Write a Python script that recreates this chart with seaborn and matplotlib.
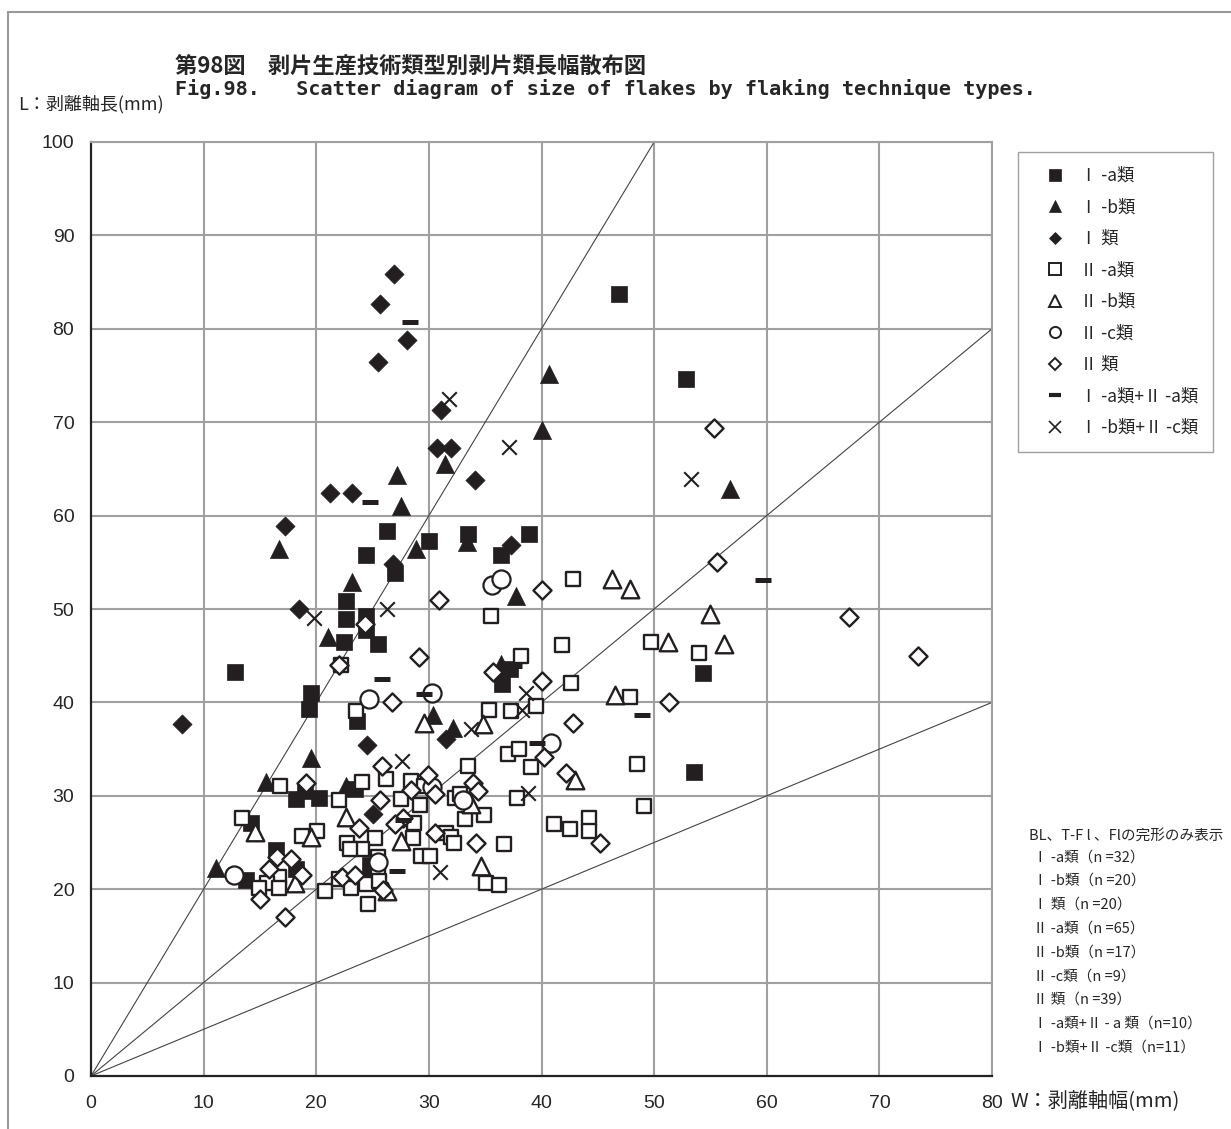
import numpy as np
import pandas as pd
import matplotlib
matplotlib.use("Agg")
import matplotlib.pyplot as plt
import seaborn as sns
from matplotlib.lines import Line2D
from matplotlib.patches import Rectangle

# ---------------- data (W = width mm, L = length mm) ----------------
Ia_W = [46.9, 52.8, 12.8, 13.8, 14.2, 16.4, 18.2, 18.2, 19.0, 19.4, 19.5, 20.2, 22.5, 22.6, 22.6, 24.4,
        24.4, 24.4, 23.6, 23.4, 25.5, 26.3, 27.0, 30.0, 33.5, 36.4, 38.9, 36.5, 37.2, 54.3, 53.5, 24.8]
Ia_L = [83.7, 74.6, 43.3, 21.0, 27.1, 24.2, 29.7, 22.2, 30.5, 39.3, 41.0, 29.8, 46.5, 48.9, 50.9, 55.8,
        49.3, 47.8, 38.0, 30.7, 46.2, 58.4, 53.9, 57.3, 58.0, 55.8, 58.0, 42.0, 43.6, 43.2, 32.5, 22.6]

Ib_W = [40.7, 40.0, 56.7, 27.2, 27.5, 31.4, 33.4, 28.9, 37.7, 16.7, 23.2, 21.0, 19.5, 15.5, 11.1, 22.6,
        30.4, 32.1, 36.4, 24.7]
Ib_L = [75.2, 69.2, 62.9, 64.4, 61.0, 65.5, 57.2, 56.4, 51.4, 56.4, 52.9, 47.0, 34.0, 31.5, 22.3, 31.0,
        38.7, 37.3, 44.1, 22.4]

I_W = [8.1, 26.9, 25.7, 25.5, 28.1, 21.2, 23.2, 17.2, 18.5, 31.1, 30.7, 32.0, 34.1, 37.3, 24.5, 25.0,
       31.5, 26.8, 36.0, 22.0]
I_L = [37.7, 85.9, 82.7, 76.4, 78.8, 62.4, 62.4, 58.9, 50.0, 71.3, 67.2, 67.2, 63.8, 56.9, 35.4, 28.1,
       36.1, 54.8, 43.0, 44.0]

IIa_W = [16.8, 22.2, 23.5, 24.1, 22.0, 13.4, 18.7, 20.1, 22.7, 25.2, 24.1, 25.5, 16.7, 15.6, 14.9, 16.7,
         20.8, 22.0, 23.1, 24.4, 25.5, 24.6, 41.8, 49.7, 38.2, 42.6, 47.9, 39.5, 35.3, 37.3, 37.0, 38.0,
         39.1, 48.5, 33.5, 28.4, 29.6, 32.3, 32.8, 37.8, 27.5, 29.2, 49.1, 33.2, 34.9, 28.7, 41.1, 42.5,
         44.2, 44.2, 31.5, 32.0, 32.2, 28.6, 36.7, 29.3, 30.1, 35.1, 36.2, 42.8, 35.5, 54.0, 26.2, 23.0,
         25.6]
IIa_L = [31.1, 44.0, 39.1, 31.5, 29.6, 27.6, 25.7, 26.2, 25.0, 25.5, 24.3, 23.5, 21.3, 20.7, 20.1, 20.1,
         19.8, 21.1, 20.1, 20.6, 22.3, 18.4, 46.1, 46.5, 45.0, 42.1, 40.6, 39.6, 39.2, 39.1, 34.5, 35.0,
         33.1, 33.4, 33.2, 31.6, 31.0, 29.8, 30.2, 29.8, 29.7, 29.0, 28.9, 27.5, 27.9, 27.1, 27.0, 26.4,
         27.6, 26.2, 26.0, 25.6, 24.9, 25.5, 24.8, 23.6, 23.6, 20.7, 20.4, 53.2, 49.3, 45.3, 31.8, 24.3,
         20.9]

IIb_W = [51.2, 46.5, 46.3, 47.9, 55.0, 56.2, 43.0, 29.6, 34.8, 33.7, 27.5, 34.6, 26.3, 14.6, 19.5, 22.6, 18.1]
IIb_L = [46.5, 40.8, 53.2, 52.1, 49.5, 46.2, 31.7, 37.8, 37.7, 29.1, 25.2, 22.5, 19.8, 26.1, 25.6, 27.7, 20.7]

IIc_W = [35.6, 36.4, 24.7, 30.3, 40.8, 33.0, 30.3, 12.7, 25.5]
IIc_L = [52.6, 53.2, 40.4, 41.0, 35.6, 29.5, 30.9, 21.5, 22.9]

II_W = [55.3, 55.6, 67.3, 73.4, 51.3, 30.9, 40.0, 29.1, 35.7, 40.0, 26.7, 42.8, 40.2, 42.2, 25.8, 29.9,
        28.4, 30.5, 33.9, 34.4, 25.7, 27.7, 30.5, 34.2, 45.2, 25.9, 19.1, 16.5, 17.8, 15.8, 18.7, 23.8,
        22.3, 23.4, 15.0, 17.2, 24.3, 22.0, 27.0]
II_L = [69.4, 55.0, 49.1, 45.0, 40.0, 51.0, 52.0, 44.9, 43.3, 42.3, 40.0, 37.8, 34.2, 32.4, 33.2, 32.2,
        30.6, 30.2, 31.4, 30.5, 29.5, 27.6, 26.0, 24.9, 24.9, 19.9, 31.4, 23.4, 23.2, 22.2, 21.5, 26.6,
        21.3, 21.5, 19.0, 17.0, 48.4, 44.0, 27.0]

IaIIa_W = [28.3, 24.8, 25.8, 29.6, 37.6, 48.9, 39.6, 27.7, 27.2, 59.7]
IaIIa_L = [80.7, 61.5, 42.5, 40.9, 43.9, 38.7, 35.6, 27.4, 22.0, 53.1]

IbIIc_W = [31.8, 37.1, 53.3, 19.8, 26.3, 38.6, 38.3, 33.7, 27.6, 38.8, 31.0]
IbIIc_L = [72.5, 67.3, 63.9, 49.0, 50.0, 41.0, 39.2, 37.2, 33.7, 30.3, 21.8]

labels = ["Ⅰ -a類", "Ⅰ -b類", "Ⅰ 類", "Ⅱ -a類", "Ⅱ -b類", "Ⅱ -c類", "Ⅱ 類",
          "Ⅰ -a類+Ⅱ -a類", "Ⅰ -b類+Ⅱ -c類"]
notes = ["BL、T-F l 、Flの完形のみ表示", "Ⅰ -a類（n =32）", "Ⅰ -b類（n =20）", "Ⅰ 類（n =20）",
         "Ⅱ -a類（n =65）", "Ⅱ -b類（n =17）", "Ⅱ -c類（n =9）", "Ⅱ 類（n =39）",
         "Ⅰ -a類+Ⅱ - a 類（n=10）", "Ⅰ -b類+Ⅱ -c類（n=11）"]
x_ticks = [0, 10, 20, 30, 40, 50, 60, 70, 80]
y_ticks = [0, 10, 20, 30, 40, 50, 60, 70, 80, 90, 100]
ref_slopes = [2.0, 1.0, 0.5]

groups = [(Ia_W, Ia_L), (Ib_W, Ib_L), (I_W, I_L), (IIa_W, IIa_L), (IIb_W, IIb_L),
          (IIc_W, IIc_L), (II_W, II_L), (IaIIa_W, IaIIa_L), (IbIIc_W, IbIIc_L)]
frames = []
for lab, (w, l) in zip(labels, groups):
    frames.append(pd.DataFrame({"W": w, "L": l, "group": lab}))
df = pd.concat(frames, ignore_index=True)

# ---------------- style ----------------
sns.set_theme(style="white")
plt.rcParams["font.family"] = ["Noto Sans CJK JP", "DejaVu Sans"]
INK = "#231f20"
GRID = "#a0a0a0"

styles = {
    labels[0]: dict(marker="s", s=120, color=INK, edgecolor=INK, linewidth=0.5),
    labels[1]: dict(marker="^", s=170, color=INK, edgecolor=INK, linewidth=0.5),
    labels[2]: dict(marker="D", s=95, color=INK, edgecolor=INK, linewidth=0.5),
    labels[3]: dict(marker="s", s=110, color="white", edgecolor=INK, linewidth=1.7),
    labels[4]: dict(marker="^", s=160, color="white", edgecolor=INK, linewidth=1.7),
    labels[5]: dict(marker="o", s=170, color="white", edgecolor=INK, linewidth=1.6),
    labels[6]: dict(marker="D", s=85, color="white", edgecolor=INK, linewidth=1.7),
    labels[7]: dict(marker="_", s=140, color=INK, linewidth=3.6),
    labels[8]: dict(marker="x", s=110, color=INK, linewidth=1.5),
}

fig = plt.figure(figsize=(12.31, 11.29), dpi=100)
ax = fig.add_axes([91 / 1231, 1 - 1076 / 1129, (992 - 91) / 1231, (1076 - 142) / 1129])

# grid and reference lines
for xv in x_ticks[1:]:
    ax.axvline(xv, color=GRID, lw=1.5, zorder=0)
for yv in y_ticks[1:]:
    ax.axhline(yv, color=GRID, lw=1.5, zorder=0)
xs = np.array([0, 80])
for k in ref_slopes:
    ax.plot(xs, k * xs, color="#444444", lw=0.8, zorder=1)

for lab in labels:
    sub = df[df["group"] == lab]
    sns.scatterplot(data=sub, x="W", y="L", ax=ax, legend=False, zorder=3, **styles[lab])

ax.set_xlim(0, 80)
ax.set_ylim(0, 100)
ax.set_xticks(x_ticks)
ax.set_yticks(y_ticks)
ax.set_xlabel("")
ax.set_ylabel("")
ax.tick_params(axis="both", length=0, labelsize=14)
ax.tick_params(axis="y", pad=12)
ax.tick_params(axis="x", pad=14)
for t in ax.get_xticklabels() + ax.get_yticklabels():
    t.set_fontfamily(["Liberation Sans", "DejaVu Sans"])
for side in ["left", "bottom"]:
    ax.spines[side].set_color("#222222")
    ax.spines[side].set_linewidth(1.6)
for side in ["top", "right"]:
    ax.spines[side].set_color(GRID)
    ax.spines[side].set_linewidth(1.5)

# legend
handles = []
for lab in labels:
    st = styles[lab]
    m = st["marker"]
    if m in ("_", "x"):
        h = Line2D([], [], ls="none", marker=m, color=INK, markersize=9,
                   markeredgewidth=3.0 if m == "_" else 1.2)
    else:
        h = Line2D([], [], ls="none", marker=m, markerfacecolor=st["color"], markeredgecolor=INK,
                   markersize=8 if m != "D" else 6.5, markeredgewidth=1.4 if st["color"] == "white" else 0.5)
    handles.append(h)
leg = ax.legend(handles, labels, loc="upper left", bbox_to_anchor=(1018 / 1231, 1 - 152 / 1129),
                bbox_transform=fig.transFigure, frameon=True, fancybox=False, fontsize=12.5,
                labelspacing=0.78, handletextpad=0.1, borderpad=0.85, handlelength=2.6,
                borderaxespad=0)
leg.get_frame().set_edgecolor("#888888")
leg.get_frame().set_linewidth(1.0)
leg.set_zorder(5)

# titles and axis labels
fig.text(175 / 1231, 1 - 67 / 1129, "第98図　剥片生産技術類型別剥片類長幅散布図", fontsize=16,
         fontweight="bold", va="center", ha="left")
fig.text(175 / 1231, 1 - 89 / 1129,
         "Fig.98.   Scatter diagram of size of flakes by flaking technique types.",
         fontsize=14.5, fontweight="bold", va="center", ha="left",
         family=["DejaVu Sans Mono", "Noto Sans CJK JP"])
fig.text(18 / 1231, 1 - 104 / 1129, "L：剥離軸長(mm)", fontsize=13, va="center", ha="left")
fig.text(1010 / 1231, 1 - 1101 / 1129, "W：剥離軸幅(mm)", fontsize=14.5, va="center", ha="left")

# notes
note_y = [836, 858, 881, 905, 929, 953, 977, 1000, 1024, 1048]
for i, (txt, yy) in enumerate(zip(notes, note_y)):
    fig.text((1029 if i == 0 else 1033) / 1231, 1 - yy / 1129, txt, fontsize=10.5, va="center", ha="left")

# outer frame (top and left visible)
fig.patches.append(Rectangle((8 / 1231, -0.1), 1.2, 1.1 - 12 / 1129, transform=fig.transFigure,
                             fill=False, edgecolor="#999999", lw=1.5, zorder=0))

fig.savefig("out.png", dpi=100, facecolor="white")
